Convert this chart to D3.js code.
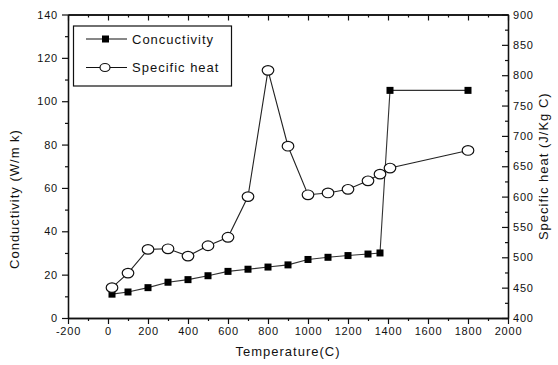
<!DOCTYPE html>
<html>
<head>
<meta charset="utf-8">
<script src="https://cdn.jsdelivr.net/npm/d3@7"></script>
<style>
  body { margin: 0; background: #fff; }
  text { font-family: "Liberation Sans", Arial, sans-serif; fill: #111; }
</style>
</head>
<body>
<div id="chart"></div>
<script>
const width = 558;
const height = 365;

// data
const temperature = [20, 100, 200, 300, 400, 500, 600, 700, 800, 900, 1000, 1100, 1200, 1300, 1360, 1410, 1800];
const conductivity = [11, 12, 14, 16.5, 17.7, 19.5, 21.5, 22.5, 23.5, 24.5, 27, 28, 28.8, 29.5, 30, 105, 105];
const specificHeat = [450, 474, 513, 514, 502, 519, 533, 600, 808, 683, 603, 606, 612, 626, 637, 647, 676];

const xTicks = [-200, 0, 200, 400, 600, 800, 1000, 1200, 1400, 1600, 1800, 2000];
const yLeftTicks = [0, 20, 40, 60, 80, 100, 120, 140];
const yRightTicks = [400, 450, 500, 550, 600, 650, 700, 750, 800, 850, 900];

const legendNames = ["Concuctivity", "Specific heat"];

const margin = { left: 68, right: 50, top: 14.5, bottom: 47 };

const x = d3.scaleLinear().domain([-200, 2000]).range([margin.left, width - margin.right]);
const yL = d3.scaleLinear().domain([0, 140]).range([height - margin.bottom, margin.top]);
const yR = d3.scaleLinear().domain([400, 900]).range([height - margin.bottom, margin.top]);

const svg = d3.select("#chart")
    .append("svg")
    .attr("width", width)
    .attr("height", height);

const fontSize = 11;
const plain = d => String(d);

// Axes (major + minor ticks)
function styleAxis(g) {
    g.selectAll("path").attr("stroke", "#111").attr("stroke-width", 1.3);
    g.selectAll("line").attr("stroke", "#111").attr("stroke-width", 1.2);
    g.selectAll("text").attr("font-size", fontSize).attr("letter-spacing", "0.8px");
}

const x0 = height - margin.bottom;

svg.append("g")
    .attr("transform", `translate(0,${x0})`)
    .call(d3.axisBottom(x).tickValues(d3.range(-100, 2000, 200)).tickSize(3).tickFormat("").tickSizeOuter(0))
    .call(styleAxis);
svg.append("g")
    .attr("transform", `translate(0,${x0})`)
    .call(d3.axisBottom(x).tickValues(xTicks).tickSize(6).tickPadding(3).tickFormat(plain).tickSizeOuter(0))
    .call(styleAxis);

// top axis, ticks pointing inward
svg.append("g")
    .attr("transform", `translate(0,${margin.top})`)
    .call(d3.axisBottom(x).tickValues(d3.range(-100, 2000, 200)).tickSize(3).tickFormat("").tickSizeOuter(0))
    .call(styleAxis);
svg.append("g")
    .attr("transform", `translate(0,${margin.top})`)
    .call(d3.axisBottom(x).tickValues(xTicks).tickSize(6).tickFormat("").tickSizeOuter(0))
    .call(styleAxis);

// left axis
svg.append("g")
    .attr("transform", `translate(${margin.left},0)`)
    .call(d3.axisLeft(yL).tickValues(d3.range(10, 140, 20)).tickSize(3).tickFormat("").tickSizeOuter(0))
    .call(styleAxis);
svg.append("g")
    .attr("transform", `translate(${margin.left},0)`)
    .call(d3.axisLeft(yL).tickValues(yLeftTicks).tickSize(6).tickPadding(4).tickFormat(plain).tickSizeOuter(0))
    .call(styleAxis);

// right axis, ticks inward, labels outside
const xr = width - margin.right;
svg.append("g")
    .attr("transform", `translate(${xr},0)`)
    .call(d3.axisLeft(yR).tickValues(d3.range(425, 900, 50)).tickSize(3).tickFormat("").tickSizeOuter(0))
    .call(styleAxis);
svg.append("g")
    .attr("transform", `translate(${xr},0)`)
    .call(d3.axisLeft(yR).tickValues(yRightTicks).tickSize(6).tickFormat("").tickSizeOuter(0))
    .call(styleAxis);
svg.append("g")
    .attr("transform", `translate(${xr},0)`)
    .call(d3.axisRight(yR).tickValues(yRightTicks).tickSize(0).tickPadding(5).tickFormat(plain))
    .call(styleAxis)
    .call(g => g.select(".domain").remove());

// axis titles
svg.append("text")
    .attr("x", (margin.left + xr) / 2)
    .attr("y", 356)
    .attr("text-anchor", "middle")
    .attr("font-size", 13)
    .attr("letter-spacing", "1px")
    .text("Temperature(C)");

svg.append("text")
    .attr("transform", "translate(19,199) rotate(-90)")
    .attr("text-anchor", "middle")
    .attr("font-size", 13)
    .attr("letter-spacing", "1px")
    .text("Conductivity (W/m k)");

svg.append("text")
    .attr("transform", `translate(548,${yR(650)}) rotate(-90)`)
    .attr("text-anchor", "middle")
    .attr("font-size", 13)
    .attr("letter-spacing", "1px")
    .text("Specific heat (J/Kg C)");

// series
const condData = temperature.map((t, i) => ({ t, v: conductivity[i] }));
const heatData = temperature.map((t, i) => ({ t, v: specificHeat[i] }));

svg.append("path")
    .datum(condData)
    .attr("fill", "none")
    .attr("stroke", "#333")
    .attr("stroke-width", 1.1)
    .attr("d", d3.line().x(d => x(d.t)).y(d => yL(d.v)));

svg.append("path")
    .datum(heatData)
    .attr("fill", "none")
    .attr("stroke", "#222")
    .attr("stroke-width", 1.1)
    .attr("d", d3.line().x(d => x(d.t)).y(d => yR(d.v)));

svg.append("g")
    .selectAll("rect")
    .data(condData)
    .join("rect")
    .attr("x", d => x(d.t) - 3.5)
    .attr("y", d => yL(d.v) - 3.5)
    .attr("width", 7)
    .attr("height", 7)
    .attr("fill", "#000");

svg.append("g")
    .selectAll("ellipse")
    .data(heatData)
    .join("ellipse")
    .attr("cx", d => x(d.t))
    .attr("cy", d => yR(d.v))
    .attr("rx", 5.8)
    .attr("ry", 4.8)
    .attr("fill", "#fff")
    .attr("stroke", "#111")
    .attr("stroke-width", 1.2);

// legend
const legend = svg.append("g");
legend.append("rect")
    .attr("x", 73.5)
    .attr("y", 26)
    .attr("width", 158)
    .attr("height", 60)
    .attr("fill", "#fff")
    .attr("stroke", "#111")
    .attr("stroke-width", 1.2);

legendNames.forEach((name, i) => {
    const ly = 39 + i * 28.5;
    legend.append("line")
        .attr("x1", 86).attr("x2", 127)
        .attr("y1", ly).attr("y2", ly)
        .attr("stroke", "#111").attr("stroke-width", 1.2);
    if (i === 0) {
        legend.append("rect")
            .attr("x", 102).attr("y", ly - 3.5)
            .attr("width", 7).attr("height", 7)
            .attr("fill", "#000");
    } else {
        legend.append("ellipse")
            .attr("cx", 105).attr("cy", ly)
            .attr("rx", 5).attr("ry", 4)
            .attr("fill", "#fff").attr("stroke", "#111").attr("stroke-width", 1.2);
    }
    legend.append("text")
        .attr("x", 132)
        .attr("y", ly + 4.5)
        .attr("font-size", 13)
        .attr("letter-spacing", "1px")
        .text(name);
});
</script>
</body>
</html>
